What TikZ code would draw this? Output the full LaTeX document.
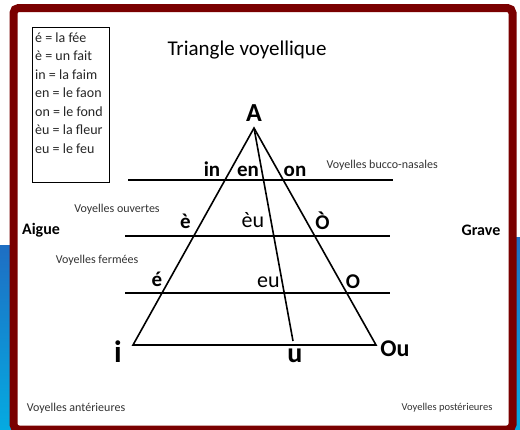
\documentclass[tikz,border=0pt]{standalone}
\usepackage{fontspec}
\setmainfont{Carlito}
\usepackage{tikz}
\usetikzlibrary{calc}
\definecolor{bordeau}{RGB}{122,0,0}
\definecolor{bleuhaut}{RGB}{30,110,195}
\definecolor{bleubas}{RGB}{5,170,225}

\begin{document}
\begin{tikzpicture}[x=1pt,y=-1pt,
    trait/.style={line width=1.6pt},
    ligne/.style={line width=2.2pt},
    voy/.style={font=\fontsize{21}{25}\selectfont\bfseries},
    voyl/.style={font=\fontsize{22}{26}\selectfont},
    petit/.style={font=\fontsize{12}{14}\selectfont,text=black!80},
    cote/.style={font=\fontsize{16}{19}\selectfont\bfseries}]
			\useasboundingbox (0,0) rectangle (520,429);
			\fill[white] (0,0) rectangle (520,429);
			\shade[top color=bleuhaut,bottom color=bleubas] (0,245) rectangle (12,429);
			\shade[top color=bleuhaut,bottom color=bleubas] (514,237) rectangle (520,429);
			\draw[bordeau,line width=8pt,rounded corners=5pt,fill=white] (13.5,8) rectangle (512.5,429.5);
			
			% legende
			\draw[line width=1pt] (32,27) rectangle (109,182);
			\node[anchor=north west,inner sep=0pt,align=left,text=black!85,
			  font=\fontsize{14}{18.5}\selectfont] (legende) at (35,32.5)
			  {é = la fée\\è = un fait\\in = la faim\\en = le faon\\on = le fond\\èu = la fleur\\eu = le feu};
			
			\node[font=\fontsize{21}{25}\selectfont] (titre) at (247,50) {Triangle voyellique};
			
			\coordinate (A) at (254,128);
			\coordinate (I) at (133,345);
			\coordinate (Ou) at (376,345);
			\coordinate (U) at (293,341);
			
			\draw[trait] (I)--(A)--(Ou)--cycle;
			\draw[trait] (A)--(U);
			
			\coordinate (h1g) at (128,180);
			\coordinate (h1d) at (393,180);
			\coordinate (h2g) at (125,236);
			\coordinate (h2d) at (390,236);
			\coordinate (h3g) at (125,293);
			\coordinate (h3d) at (390,293);
			\draw[ligne] (h1g)--(h1d);
			\draw[ligne] (h2g)--(h2d);
			\draw[ligne] (h3g)--(h3d);
			
			% sommets
			\node[font=\fontsize{26}{30}\selectfont\bfseries] (lA) at (254,113) {A};
			\node[font=\fontsize{31}{36}\selectfont\bfseries] (li) at (118,352) {i};
			\node[font=\fontsize{28}{32}\selectfont\bfseries] (lu) at (295,356) {u};
			\node[font=\fontsize{24}{28}\selectfont\bfseries] (lOu) at (395,349) {Ou};
			
			% voyelles
			\node[voy,anchor=base] (lin) at (212,176) {in};
			\node[voy,anchor=base] (len) at (248,176) {en};
			\node[voy,anchor=base] (lon) at (295,176) {on};
			\node[voy,anchor=base] (lee) at (185.5,228) {è};
			\node[voyl,anchor=base] (leu1) at (253,227) {èu};
			\node[voy,anchor=base] (loo) at (322.5,229) {Ò};
			\node[voy,anchor=base] (lea) at (157,286) {é};
			\node[voyl,anchor=base] (leu2) at (268.5,287) {eu};
			\node[voy,anchor=base] (lo) at (353,288) {O};
			
			% zones
			\node[petit,anchor=west] (nasal) at (323,165) {Voyelles bucco-nasales};
			\node[petit] (ouv) at (117,209) {Voyelles ouvertes};
			\node[petit] (ferm) at (97,260) {Voyelles fermées};
			\node[petit] (ant) at (76,408) {Voyelles antérieures};
			\node[petit,font=\fontsize{10.5}{12}\selectfont] (post) at (447,408) {Voyelles postérieures};
			\node[cote] (aigue) at (41,230) {Aigue};
			\node[cote] (grave) at (481,230) {Grave};
		\end{tikzpicture}
\end{document}
